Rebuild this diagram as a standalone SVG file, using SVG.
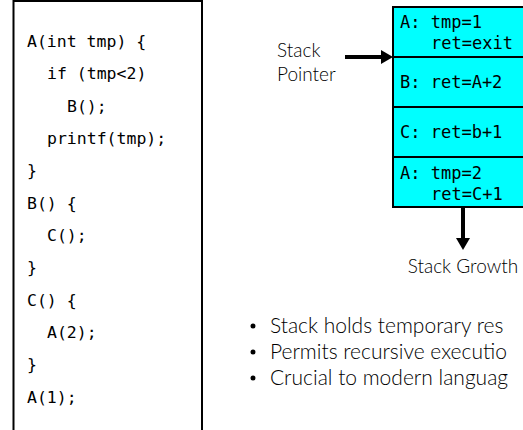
<svg xmlns="http://www.w3.org/2000/svg" width="523" height="430" viewBox="0 0 523 430">
  <defs>
    <style>
      .code { font-family: "DejaVu Sans Mono", "Liberation Mono", monospace; font-size: 16.5px; fill: #000; }
      .frame-text { font-family: "DejaVu Sans Mono", "Liberation Mono", monospace; font-size: 17px; fill: #000; }
      .label { font-family: "Lato", "Open Sans", "Liberation Sans", sans-serif; font-weight: 300; font-size: 19px; fill: #000; }
      .bullet { font-family: "Lato", "Open Sans", "Liberation Sans", sans-serif; font-weight: 300; font-size: 21px; fill: #000; }
      .frame { fill: #00FFFF; stroke: #000; stroke-width: 2; }
      .conn { stroke: #000; stroke-width: 4; fill: none; }
    </style>
    <marker id="head" markerUnits="userSpaceOnUse" markerWidth="12" markerHeight="14" refX="0" refY="7" orient="auto">
      <path d="M0,0 L12,7 L0,14 Z" fill="#000"/>
    </marker>
  </defs>

  <rect width="523" height="430" fill="#fff"/>

  <!-- source listing -->
  <g id="code">
    <rect x="13.5" y="1" width="188.5" height="440" fill="#fff" stroke="#000" stroke-width="2"/>
    <text class="code" x="27" y="47">A(int tmp) {</text>
    <text class="code" x="47" y="79">if (tmp&lt;2)</text>
    <text class="code" x="67" y="112">B();</text>
    <text class="code" x="47" y="144">printf(tmp);</text>
    <text class="code" x="27" y="176">}</text>
    <text class="code" x="27" y="209">B() {</text>
    <text class="code" x="47" y="241">C();</text>
    <text class="code" x="27" y="273">}</text>
    <text class="code" x="27" y="306">C() {</text>
    <text class="code" x="47" y="338">A(2);</text>
    <text class="code" x="27" y="370">}</text>
    <text class="code" x="27" y="403">A(1);</text>
  </g>

  <!-- stack frames -->
  <g id="frame-a1">
    <rect class="frame" x="393" y="7" width="150" height="50"/>
    <text class="frame-text" x="400" y="28">A: tmp=1</text>
    <text class="frame-text" x="431" y="49">ret=exit</text>
  </g>
  <g id="frame-b">
    <rect class="frame" x="393" y="57" width="150" height="50"/>
    <text class="frame-text" x="400" y="88">B: ret=A+2</text>
  </g>
  <g id="frame-c">
    <rect class="frame" x="393" y="107" width="150" height="50"/>
    <text class="frame-text" x="400" y="138">C: ret=b+1</text>
  </g>
  <g id="frame-a2">
    <rect class="frame" x="393" y="157" width="150" height="50"/>
    <text class="frame-text" x="400" y="179">A: tmp=2</text>
    <text class="frame-text" x="431" y="200">ret=C+1</text>
  </g>

  <g id="stack-pointer">
    <text class="label" x="277" y="57">Stack</text>
    <text class="label" x="277" y="81">Pointer</text>
  </g>

  <g id="stack-growth">
    <text class="label" x="463" y="273" text-anchor="middle">Stack Growth</text>
  </g>

  <!-- connectors -->
  <g id="connectors">
    <line class="conn" x1="345" y1="57" x2="381" y2="57" marker-end="url(#head)"/>
    <line class="conn" x1="463" y1="208" x2="463" y2="238" marker-end="url(#head)"/>
  </g>

  <g id="notes">
    <circle cx="253" cy="326" r="2.5" fill="#000"/>
    <text class="bullet" x="270" y="333">Stack holds temporary res</text>
    <circle cx="253" cy="352" r="2.5" fill="#000"/>
    <text class="bullet" x="270" y="359">Permits recursive executio</text>
    <circle cx="253" cy="378" r="2.5" fill="#000"/>
    <text class="bullet" x="270" y="385">Crucial to modern languag</text>
  </g>
</svg>
